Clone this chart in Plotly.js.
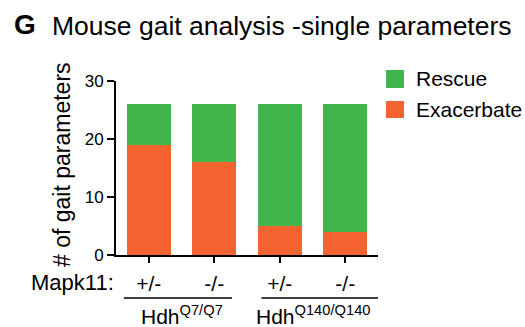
<!DOCTYPE html>
<html>
<head>
<meta charset="utf-8">
<script src="https://cdn.plot.ly/plotly-3.0.1.min.js"></script>
<style>html,body{margin:0;padding:0;background:#fff;}#chart{width:525px;height:327px;}</style>
</head>
<body>
<div id="chart"></div>
<script>
// ---- data ----
const groups = [0, 1, 2, 3];
const mapk11Labels = ['+/-', '-/-', '+/-', '-/-'];
const exacerbate = [19, 16, 5, 4];
const rescue = [7, 10, 21, 22];
const seriesNames = ['Rescue', 'Exacerbate'];
const hdhLabels = ['Hdh<sup>Q7/Q7</sup>', 'Hdh<sup>Q140/Q140</sup>'];
const hdhCenters = [0.5, 2.5];
const yTicks = [0, 10, 20, 30];

const GREEN = '#40b54b';
const ORANGE = '#f26330';
const FONT = '"Liberation Sans", Arial, Helvetica, sans-serif';

const traces = [
  {type: 'bar', x: groups, y: exacerbate, name: seriesNames[1], marker: {color: ORANGE, line: {width: 0}}, showlegend: false, hoverinfo: 'none'},
  {type: 'bar', x: groups, y: rescue, name: seriesNames[0], marker: {color: GREEN, line: {width: 0}}, showlegend: false, hoverinfo: 'none'}
];

const W = 262, H = 174, L = 116, B = 255;
const px = v => (v - L) / W;
const py = v => (B - v) / H;

const annotations = [
  {text: '<b>G</b>', xref: 'paper', yref: 'paper', x: px(12), y: py(25), xanchor: 'left', yanchor: 'middle', showarrow: false, font: {size: 28, color: '#000', family: FONT}},
  {text: '# of gait parameters', xref: 'paper', yref: 'paper', x: px(62), y: py(165), xanchor: 'center', yanchor: 'middle', textangle: -90, showarrow: false, font: {size: 23, color: '#000', family: FONT}},
  {text: 'Mapk11:', xref: 'paper', yref: 'paper', x: px(116), y: py(282), xanchor: 'right', yanchor: 'middle', showarrow: false, font: {size: 22, color: '#000', family: FONT}},
  {text: seriesNames[0], xref: 'paper', yref: 'paper', x: px(414), y: py(79), xanchor: 'left', yanchor: 'middle', showarrow: false, font: {size: 21, color: '#000', family: FONT}},
  {text: seriesNames[1], xref: 'paper', yref: 'paper', x: px(414), y: py(109), xanchor: 'left', yanchor: 'middle', showarrow: false, font: {size: 21, color: '#000', family: FONT}}
];
hdhLabels.forEach((t, i) => annotations.push({
  text: t, xref: 'x', yref: 'paper', x: hdhCenters[i], y: py(315), xanchor: 'center', yanchor: 'middle', showarrow: false, font: {size: 21, color: '#000', family: FONT}
}));

const shapes = [
  {type: 'rect', xref: 'paper', yref: 'paper', x0: px(386), x1: px(404), y0: py(70), y1: py(88), fillcolor: GREEN, line: {width: 0}},
  {type: 'rect', xref: 'paper', yref: 'paper', x0: px(386), x1: px(404), y0: py(101), y1: py(118), fillcolor: ORANGE, line: {width: 0}},
  {type: 'line', xref: 'x', yref: 'paper', x0: -0.38, x1: 1.27, y0: py(298), y1: py(298), line: {color: '#000', width: 1.5}},
  {type: 'line', xref: 'x', yref: 'paper', x0: 1.72, x1: 3.53, y0: py(298), y1: py(298), line: {color: '#000', width: 1.5}}
];

const layout = {
  width: 525, height: 327,
  margin: {l: 116, r: 147, t: 81, b: 72},
  paper_bgcolor: '#fff', plot_bgcolor: '#fff',
  font: {family: FONT, color: '#000'},
  title: {text: 'Mouse gait analysis -single parameters', x: 52 / 525, xanchor: 'left', y: 1 - 26 / 327, yanchor: 'middle', xref: 'container', yref: 'container', font: {size: 26.5, color: '#000', family: FONT}},
  barmode: 'stack', bargap: 0.33,
  xaxis: {range: [-0.5, 3.5], tickvals: groups, ticktext: mapk11Labels, showgrid: false, zeroline: false, showline: true, linecolor: '#000', linewidth: 2, ticks: 'outside', ticklen: 6, tickwidth: 2, tickcolor: '#000', ticklabelstandoff: 3, tickfont: {size: 21, color: '#000', family: FONT}, fixedrange: true},
  yaxis: {range: [0, 30], tickvals: yTicks, showgrid: false, zeroline: false, showline: true, linecolor: '#000', linewidth: 2, ticks: 'outside', ticklen: 7, tickwidth: 2, tickcolor: '#000', tickfont: {size: 17, color: '#000', family: FONT}, fixedrange: true},
  annotations: annotations,
  shapes: shapes,
  showlegend: false
};

Plotly.newPlot('chart', traces, layout, {displayModeBar: false, staticPlot: true});
</script>
</body>
</html>
